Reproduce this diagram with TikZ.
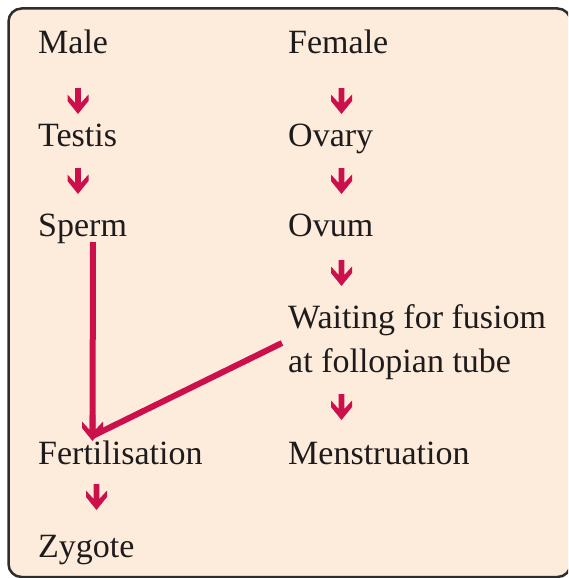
\documentclass[tikz,border=0pt]{standalone}
\usepackage{fontspec}
\setmainfont{Liberation Serif}
\definecolor{boxfill}{RGB}{253,235,219}
\definecolor{boxline}{RGB}{45,45,45}
\definecolor{crim}{RGB}{204,16,76}
\definecolor{txt}{RGB}{30,27,28}
\begin{document}
\begin{tikzpicture}[x=1pt,y=-1pt,
  lbl/.style={anchor=base west,inner sep=0pt,text=txt,font=\fontsize{34}{40}\selectfont},
  link/.style={draw=crim,line width=6pt},
  chev/.pic={\fill[crim] (0,0)--(-10.5,-13)--(-10.5,-19.5)--(-2.8,-11)--(-2.8,-26)--(2.8,-26)--(2.8,-11)--(10.5,-19.5)--(10.5,-13)--cycle;}]
\useasboundingbox (0,0) rectangle (568,578);
\begin{scope}
\clip (0,0) rectangle (568,578);
\draw[fill=boxfill,draw=boxline,line width=2.5pt,rounded corners=13pt] (8.5,8.5) rectangle (570.5,577);
\end{scope}
% left column
\node[lbl] (male) at (38,54) {Male};
\node[lbl] (testis) at (38,146) {Testis};
\node[lbl] (sperm) at (38,236) {Sperm};
\node[lbl] (fert) at (38,464) {Fertilisation};
\node[lbl] (zyg) at (38,557) {Zygote};
% right column
\node[lbl] (female) at (288,54) {Female};
\node[lbl] (ovary) at (288,146) {Ovary};
\node[lbl] (ovum) at (288,236) {Ovum};
\node[lbl] (wait1) at (288,328) {Waiting for fusiom};
\node[lbl] (wait2) at (288,372) {at follopian tube};
\node[lbl] (mens) at (288,464) {Menstruation};
% small arrows
\pic (a1) at (78,114) {chev};
\pic (a2) at (78,194) {chev};
\pic (a3) at (96.5,510) {chev};
\pic (b1) at (341.5,114) {chev};
\pic (b2) at (341.5,194) {chev};
\pic (b3) at (341.5,286) {chev};
\pic (b4) at (341.5,420) {chev};
% long connectors
\coordinate (top) at (93,242);
\coordinate (tip) at (92.5,436);
\coordinate (dstart) at (282,343);
\draw[link] (top) -- (tip);
\draw[link,line cap=butt] (dstart) -- (tip);
\pic at (92.5,441) {chev};
\end{tikzpicture}
\end{document}
